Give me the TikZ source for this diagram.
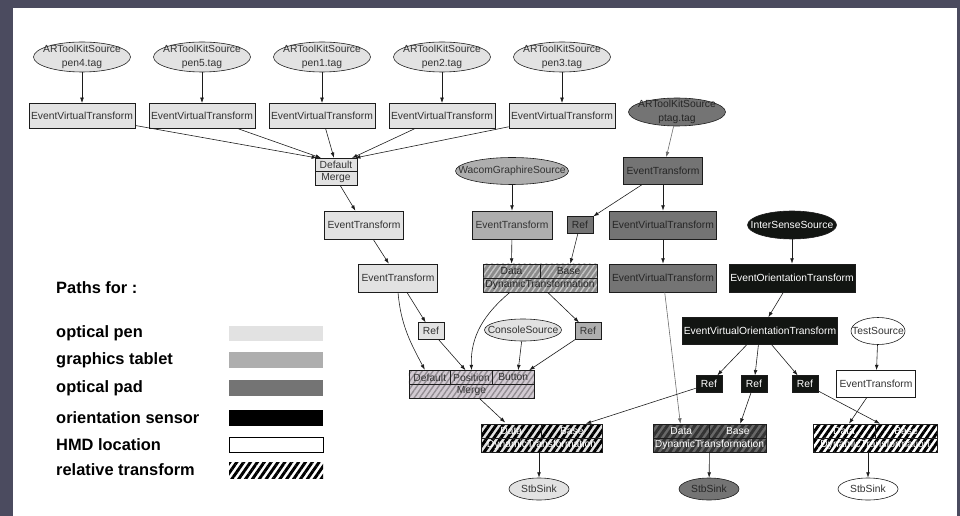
\documentclass[tikz,border=0pt]{standalone}
\usepackage{fontspec}
\setmainfont{Liberation Sans}
\usetikzlibrary{positioning,arrows.meta,calc,shapes.geometric,patterns.meta}

\definecolor{slidebg}{HTML}{4B4B5F}
\definecolor{penc}{HTML}{E2E2E2}
\definecolor{tabc}{HTML}{AEAEAE}
\definecolor{padc}{HTML}{747474}
\definecolor{oric}{HTML}{121512}
\definecolor{mergec}{HTML}{D2CAD2}
\definecolor{txtc}{HTML}{333333}
\definecolor{linec}{HTML}{1C1C1C}
\definecolor{padline}{HTML}{6A6A6A}

\newcommand{\nodefont}{\fontsize{8.8}{10}\selectfont}
\newcommand{\srcfont}{\fontsize{8.8}{12}\selectfont}
\newcommand{\legfont}{\fontsize{14}{16}\selectfont\bfseries}

\tikzset{
    >={Latex[length=4.6pt,width=3.2pt]},
    block/.style = {
        draw=linec,
        shape=rectangle,
        inner sep=0pt,
        minimum height=0.84cm,
        line width=0.5pt,
        font=\nodefont,
        text=txtc
    },
    source/.style = {
        draw=linec,
        shape=ellipse,
        inner sep=0pt,
        line width=0.5pt
    },
    tagsrc/.style = {
        source,
        minimum width=2.91cm,
        minimum height=0.9cm
    },
    srctext/.style = {
        align=center,
        inner sep=0pt,
        font=\srcfont,
        text=txtc
    },
    ref/.style = {
        block,
        minimum width=0.78cm,
        minimum height=0.5cm
    },
    cell/.style = {
        block,
        minimum height=0.42cm
    },
    padnode/.style = {fill=padc, text=black!85},
    orinode/.style = {fill=oric, text=white},
    hatch/.style 2 args = {
        preaction={fill=#1},
        pattern={Lines[angle=55,distance=3.8pt,line width=1.2pt]},
        pattern color=#2
    },
    relhatch/.style 2 args = {
        preaction={fill=#1},
        pattern={Lines[angle=55,distance=4.8pt,line width=2.5pt]},
        pattern color=#2,
        text=white
    },
    conn/.style = {
        draw=linec,
        ->,
        line width=0.5pt
    },
    legtext/.style = {
        anchor=west,
        inner sep=0pt,
        font=\legfont,
        text=black
    },
    legbar/.style = {
        shape=rectangle,
        inner sep=0pt,
        minimum width=2.82cm,
        minimum height=0.46cm
    },
}

\begin{document}
\begin{tikzpicture}[x=0.03cm, y=-0.03cm]
    % slide frame
    \useasboundingbox (0,0) rectangle (960,516);
    \fill[slidebg] (0,0) rectangle (960,516);
    \fill[white] (13,8) rectangle (957,516);

    % optical pen
    \node[tagsrc, fill=penc, label={[srctext]center:ARToolKitSource\\pen4.tag}] (pen4) at (82,57) {};
    \node[tagsrc, fill=penc, label={[srctext]center:ARToolKitSource\\pen5.tag}] (pen5) at (202,57) {};
    \node[tagsrc, fill=penc, label={[srctext]center:ARToolKitSource\\pen1.tag}] (pen1) at (322,57) {};
    \node[tagsrc, fill=penc, label={[srctext]center:ARToolKitSource\\pen2.tag}] (pen2) at (442,57) {};
    \node[tagsrc, fill=penc, label={[srctext]center:ARToolKitSource\\pen3.tag}] (pen3) at (562,57) {};

    \node[block, fill=penc, minimum width=3.18cm, minimum height=0.76cm] (evt4) at (82,116) {EventVirtualTransform};
    \node[block, fill=penc, minimum width=3.18cm, minimum height=0.76cm] (evt5) at (202,116) {EventVirtualTransform};
    \node[block, fill=penc, minimum width=3.18cm, minimum height=0.76cm] (evt1) at (322,116) {EventVirtualTransform};
    \node[block, fill=penc, minimum width=3.18cm, minimum height=0.76cm] (evt2) at (442,116) {EventVirtualTransform};
    \node[block, fill=penc, minimum width=3.18cm, minimum height=0.76cm] (evt3) at (562,116) {EventVirtualTransform};

    \node[cell, fill=penc, minimum width=1.26cm, minimum height=0.405cm] (dmDefault) at (336,165) {Default};
    \node[cell, fill=penc, minimum width=1.26cm, minimum height=0.405cm] (dmMerge) at (336,178.5) {Merge};

    \node[block, fill=penc, minimum width=2.37cm] (etPenA) at (364,225) {EventTransform};
    \node[block, fill=penc, minimum width=2.37cm] (etPenB) at (398,278) {EventTransform};
    \node[ref, fill=penc] (refPen) at (431,331) {Ref};
    \node[source, fill=penc, minimum width=2.31cm, minimum height=0.66cm, label={[srctext]center:ConsoleSource}] (console) at (523,330) {};

    % merge of pen, tablet and console
    \node[cell, hatch={mergec}{mergec!70!black}, minimum width=1.25cm] (mrgDefault) at (429.8,377.5) {Default};
    \node[cell, hatch={mergec}{mergec!70!black}, minimum width=1.25cm] (mrgPosition) at (471.5,377.5) {Position};
    \node[cell, hatch={mergec}{mergec!70!black}, minimum width=1.25cm] (mrgButton) at (513.2,377.5) {Button};
    \node[cell, hatch={mergec}{mergec!70!black}, minimum width=3.75cm] (mrg) at (471.5,391) {Merge};

    % graphics tablet
    \node[source, fill=tabc, minimum width=3.39cm, minimum height=0.81cm, label={[srctext]center:WacomGraphireSource}] (wacom) at (512,171) {};
    \node[block, fill=tabc, minimum width=2.4cm] (etTab) at (512,225) {EventTransform};
    \node[cell, hatch={tabc!80!black}{tabc!70!white}, text=black!85, minimum width=1.71cm] (dtTabData) at (511.5,271) {Data};
    \node[cell, hatch={tabc!80!black}{tabc!70!white}, text=black!85, minimum width=1.71cm] (dtTabBase) at (568.5,271) {Base};
    \node[cell, hatch={tabc!80!black}{tabc!70!white}, text=black!85, minimum width=3.42cm] (dtTab) at (540,285) {DynamicTransformation};
    \node[ref, fill=tabc] (refTab) at (588,331) {Ref};

    % optical pad
    \node[tagsrc, padnode, minimum height=0.84cm, label={[srctext, text=black!85]center:ARToolKitSource\\ptag.tag}] (ptag) at (677,112) {};
    \node[block, padnode, minimum width=2.37cm, minimum height=0.81cm] (etPad) at (663,171) {EventTransform};
    \node[ref, padnode] (refPad) at (580,225) {Ref};
    \node[block, padnode, minimum width=3.21cm] (evtPadA) at (663,225) {EventVirtualTransform};
    \node[block, padnode, minimum width=3.21cm] (evtPadB) at (663,278) {EventVirtualTransform};

    % orientation sensor
    \node[source, fill=oric, minimum width=2.67cm, minimum height=0.84cm, label={[srctext, text=white]center:InterSenseSource}] (isense) at (792,225) {};
    \node[block, orinode, minimum width=3.78cm] (eot) at (792,278) {EventOrientationTransform};
    \node[block, orinode, minimum width=4.65cm, minimum height=0.81cm] (evot) at (760,331) {EventVirtualOrientationTransform};
    \node[ref, orinode] (refOriA) at (709,384) {Ref};
    \node[ref, orinode] (refOriB) at (754,384) {Ref};
    \node[ref, orinode] (refOriC) at (805,384) {Ref};

    % HMD location
    \node[source, fill=white, minimum width=1.62cm, minimum height=0.81cm, label={[srctext]center:TestSource}] (test) at (878,331) {};
    \node[block, fill=white, minimum width=2.37cm, minimum height=0.81cm] (etHmd) at (876,384) {EventTransform};

    % relative transforms
    \node[cell, relhatch={penc}{black}, minimum width=1.815cm] (dtPenData) at (511.25,431) {Data};
    \node[cell, relhatch={penc}{black}, minimum width=1.815cm] (dtPenBase) at (571.75,431) {Base};
    \node[cell, relhatch={penc}{black}, minimum width=3.63cm] (dtPen) at (541.5,445) {DynamicTransformation};
    \node[cell, relhatch={padc!90!black}{black!80}, minimum width=1.695cm] (dtPadData) at (681.25,431) {Data};
    \node[cell, relhatch={padc!90!black}{black!80}, minimum width=1.695cm] (dtPadBase) at (737.75,431) {Base};
    \node[cell, relhatch={padc!90!black}{black!80}, minimum width=3.39cm] (dtPad) at (709.5,445) {DynamicTransformation};
    \node[cell, relhatch={white}{black}, minimum width=1.86cm] (dtHmdData) at (844,431) {Data};
    \node[cell, relhatch={white}{black}, minimum width=1.86cm] (dtHmdBase) at (906,431) {Base};
    \node[cell, relhatch={white}{black}, minimum width=3.72cm] (dtHmd) at (875,445) {DynamicTransformation};

    % sinks
    \node[source, fill=penc, minimum width=1.8cm, minimum height=0.66cm, label={[srctext]center:StbSink}] (sinkPen) at (539,489) {};
    \node[source, padnode, minimum width=1.8cm, minimum height=0.66cm, label={[srctext, text=black!85]center:StbSink}] (sinkPad) at (709,489) {};
    \node[source, fill=white, minimum width=1.8cm, minimum height=0.66cm, label={[srctext]center:StbSink}] (sinkHmd) at (868,489) {};

    % legend
    \node[legtext] (legTitle) at (56,288) {Paths for :};
    \node[legtext] (legPen) at (56,333) {optical pen};
    \node[legtext] (legTab) at (56,360) {graphics tablet};
    \node[legtext] (legPad) at (56,388) {optical pad};
    \node[legtext] (legOri) at (56,418) {orientation sensor};
    \node[legtext] (legHmd) at (56,445) {HMD location};
    \node[legtext] (legRel) at (56,470) {relative transform};
    \node[legbar, fill=penc] (barPen) at (276,333.5) {};
    \node[legbar, fill=tabc] (barTab) at (276,360) {};
    \node[legbar, fill=padc] (barPad) at (276,388) {};
    \node[legbar, fill=black] (barOri) at (276,418) {};
    \node[legbar, fill=white, draw=black, line width=0.8pt] (barHmd) at (276,445) {};
    \node[legbar, relhatch={white}{black}] (barRel) at (276,470.5) {};

    % connections
    \path[conn] (pen4) -- (evt4);
    \path[conn] (pen5) -- (evt5);
    \path[conn] (pen1) -- (evt1);
    \path[conn] (pen2) -- (evt2);
    \path[conn] (pen3) -- (evt3);
    \path[conn] (evt4) -- ($(dmDefault.north)+(-19,0)$);
    \path[conn] (evt5) -- ($(dmDefault.north)+(-15,0)$);
    \path[conn] (evt1) -- ($(dmDefault.north)+(-2,0)$);
    \path[conn] (evt2) -- ($(dmDefault.north)+(16,0)$);
    \path[conn] (evt3) -- ($(dmDefault.north)+(19,0)$);
    \path[conn] (dmMerge) -- (etPenA);
    \path[conn] (etPenA) -- (etPenB);
    \path[conn] (etPenB) -- (refPen);
    \path[conn] (etPenB.south) to[out=-85, in=118] ($(mrgDefault.north)+(-5,0)$);
    \path[conn] (refPen) -- ($(mrgPosition.north)+(-6,0)$);
    \path[conn] ($(dtTab.south)+(-30,0)$) to[out=-140, in=92] (mrgPosition.north);
    \path[conn] (dtTab) -- (refTab);
    \path[conn] (console) -- ($(mrgButton.north)+(5,0)$);
    \path[conn] (refTab) -- ($(mrgButton.north)+(16,0)$);
    \path[conn] (mrg) -- ($(dtPenData.north)+(-6,0)$);
    \path[conn] (wacom) -- (etTab);
    \path[conn] (etTab) -- (dtTabData);
    \path[conn] (refPad) -- (dtTabBase);
    \path[conn, draw=padline] (ptag) -- (etPad);
    \path[conn] (etPad) -- (refPad);
    \path[conn] (etPad) -- (evtPadA);
    \path[conn] (evtPadA) -- (evtPadB);
    \path[conn, draw=padline] (evtPadB) -- (dtPadData);
    \path[conn] (isense) -- (eot);
    \path[conn] (eot) -- (evot);
    \path[conn] (evot) -- (refOriA);
    \path[conn] (evot) -- (refOriB);
    \path[conn] (evot) -- (refOriC);
    \path[conn] (refOriA) -- ($(dtPenBase.north)+(14,0)$);
    \path[conn] (refOriB) -- (dtPadBase);
    \path[conn] (refOriC) -- ($(dtHmdBase.north)+(-26,0)$);
    \path[conn] (test) -- (etHmd);
    \path[conn] (etHmd) -- (dtHmdData);
    \path[conn] (dtPen.south -| sinkPen) -- (sinkPen);
    \path[conn] (dtPad) -- (sinkPad);
    \path[conn] (dtHmd.south -| sinkHmd) -- (sinkHmd);
\end{tikzpicture}
\end{document}
